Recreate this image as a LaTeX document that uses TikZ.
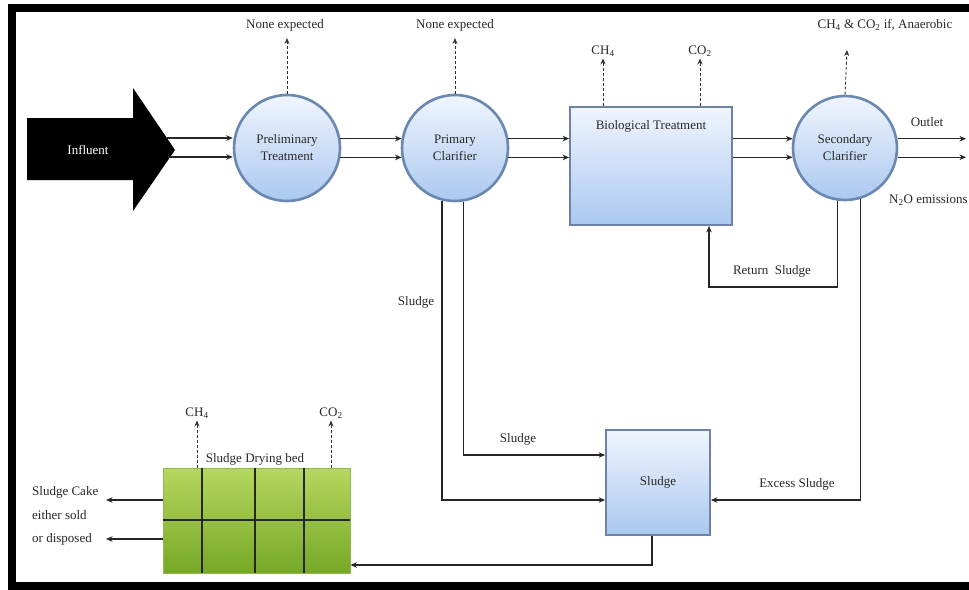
\documentclass[tikz,border=0pt]{standalone}
\usepackage{fontspec}
\setmainfont{Liberation Serif}
\usetikzlibrary{arrows.meta,calc,shadows}
\definecolor{circfillA}{RGB}{240,245,253}
\definecolor{circfillB}{RGB}{170,200,240}
\definecolor{circline}{RGB}{105,135,175}
\definecolor{boxline}{RGB}{110,130,165}
\definecolor{bedA}{RGB}{182,215,95}
\definecolor{bedB}{RGB}{118,168,38}
\definecolor{txt}{RGB}{40,40,40}
\tikzset{
  lbl/.style={font=\fontsize{13}{15}\selectfont, text=txt, inner sep=2pt},
  proc/.style={circle, draw=circline, line width=2.6pt, top color=circfillA, bottom color=circfillB,
     minimum size=106pt, inner sep=0pt, align=center, font=\fontsize{13}{17}\selectfont, text=txt},
  tank/.style={rectangle, draw=boxline, line width=1.8pt, top color=circfillA, bottom color=circfillB,
     inner sep=0pt, font=\fontsize{13}{15}\selectfont, text=txt},
  flow/.style={draw=black!85, line width=1.3pt, -{Stealth[length=6.5pt,width=5.5pt]}},
  emis/.style={draw=black!80, line width=0.9pt, densely dashed, -{Stealth[length=6pt,width=5pt]}},
}
\begin{document}
\begin{tikzpicture}[x=1pt,y=-1pt]
\useasboundingbox (0,0) rectangle (969,589);
\clip (0,0) rectangle (969,589);
\fill[white] (0,0) rectangle (969,589);
% frame
\draw[line width=8pt, black] (990,7.5) -- (11.5,7.5) -- (11.5,586) -- (990,586);

% Influent arrow
\fill[black] (27,118) -- (133,118) -- (133,88) -- (175,150) -- (133,211) -- (133,180) -- (27,180) -- cycle;
\node[font=\fontsize{13}{15}\selectfont, text=white] (influent) at (88,150) {Influent};
\coordinate (inA) at (167,138);
\coordinate (inB) at (168,157);

% process units
\node[proc] (prelim) at (287,148) {Preliminary\\Treatment};
\node[proc] (primary) at (455,148) {Primary\\Clarifier};
\node[tank, minimum width=162pt, minimum height=118pt] (bio) at (651,166) {};
\node[lbl, anchor=north] (biotxt) at (651,118) {Biological Treatment};
\node[proc, minimum size=104pt] (sec) at (845,148) {Secondary\\Clarifier};
\node[tank, minimum width=104pt, minimum height=105pt] (sludge) at (658,482.5) {Sludge};

% drying bed
\node[rectangle, draw=bedB!80!white, line width=0.8pt, top color=bedA, bottom color=bedB,
      minimum width=187pt, minimum height=105pt, inner sep=0pt] (bed) at (256.5,520.5) {};
\draw[line width=1.8pt, black!85] (bed.west |- 0,520) -- (bed.east |- 0,520);
\foreach \gx in {202,255,304} {\draw[line width=1.8pt, black!85] (\gx,468) -- (\gx,573);}
\node[lbl] (bedtxt) at (255,459) {Sludge Drying bed};

% main flow lines
\draw[flow] (inA) -- (inA -| prelim.west);
\draw[flow] (inB) -- (inB -| prelim.west);
\draw[flow] (prelim.10) -- (primary.170);
\draw[flow] (prelim.350) -- (primary.190);
\draw[flow] (primary.10) -- (primary.10 -| bio.west);
\draw[flow] (primary.350) -- (primary.350 -| bio.west);
\draw[flow] (bio.east |- sec.170) -- (sec.170);
\draw[flow] (bio.east |- sec.190) -- (sec.190);
\coordinate (outEnd) at (966,148);
\draw[flow] (sec.10) -- (sec.10 -| outEnd);
\draw[flow] (sec.350) -- (sec.350 -| outEnd);
\node[lbl] (outlet) at (927,122) {Outlet};
\node[lbl, anchor=west] (n2o) at (887,200) {N\textsubscript{2}O emissions};

% emissions
\node[lbl] (ne1) at (285,25) {None expected};
\node[lbl] (ne2) at (455,25) {None expected};
\draw[emis] (prelim.north) -- (prelim.north |- 0,38);
\draw[emis] (primary.north) -- (primary.north |- 0,38);
\node[lbl] (ch4b) at (603,51) {CH\textsubscript{4}};
\node[lbl] (co2b) at (700,51) {CO\textsubscript{2}};
\draw[emis] (ch4b.south |- bio.north) -- (ch4b.south);
\draw[emis] (co2b.south |- bio.north) -- (co2b.south);
\node[lbl] (anae) at (885,25) {CH\textsubscript{4} \& CO\textsubscript{2} if, Anaerobic};
\coordinate (secEm) at (847,50);
\draw[emis] (sec.north) -- (secEm);
\node[lbl] (ch4c) at (197,413) {CH\textsubscript{4}};
\node[lbl] (co2c) at (331,413) {CO\textsubscript{2}};
\draw[emis] (ch4c.south |- bed.north) -- (ch4c.south);
\draw[emis] (co2c.south |- bed.north) -- (co2c.south);

% return sludge
\coordinate (retCorner) at (709,287);
\draw[flow] (sec.262) |- (retCorner) -- (retCorner |- bio.south);
\node[lbl] (rettxt) at (772,271) {Return\ \ Sludge};

% sludge lines
\coordinate (lvlA) at (0,455);
\coordinate (lvlB) at (0,500);
\coordinate (lvlC) at (0,565);
\draw[flow] (primary.279) |- (sludge.west |- lvlA);
\draw[flow] (primary.256) |- (sludge.west |- lvlB);
\node[lbl] (sl1) at (416,302) {Sludge};
\node[lbl] (sl2) at (518,439) {Sludge};
\draw[flow] (sec.287) |- (sludge.east |- lvlB);
\node[lbl] (extxt) at (797,484) {Excess Sludge};
\coordinate (sdown) at (652,0);
\draw[flow] (sludge.south -| sdown) |- (bed.east |- lvlC);

% sludge cake
\coordinate (cakeA) at (106,500);
\coordinate (cakeB) at (106,539);
\draw[flow] (bed.west |- cakeA) -- (cakeA);
\draw[flow] (bed.west |- cakeB) -- (cakeB);
\node[lbl, anchor=west, align=left, font=\fontsize{13}{23.5}\selectfont] (cake) at (30,516) {Sludge Cake\\either sold\\or disposed};
\end{tikzpicture}
\end{document}
